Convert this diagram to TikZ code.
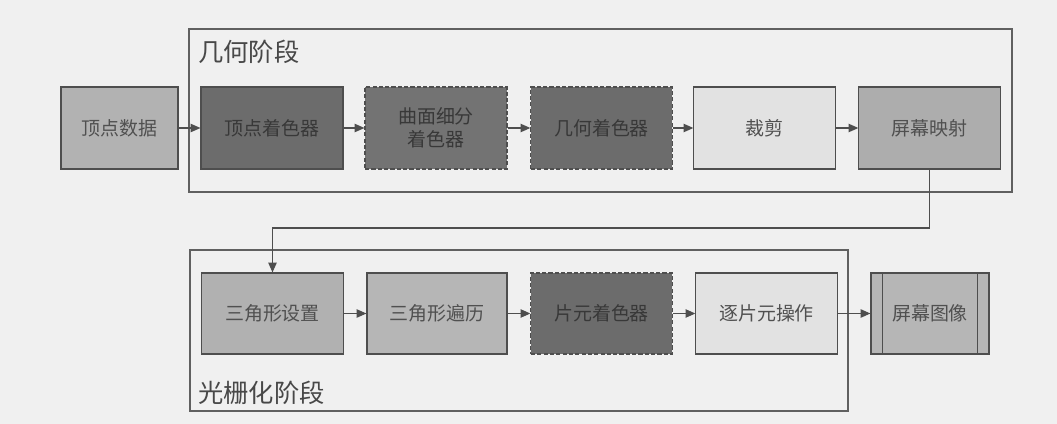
\documentclass[tikz,border=0pt]{standalone}
\usepackage{fontspec}
\newfontfamily\cjk{Noto Sans CJK SC}
\usepackage{tikz}
\usetikzlibrary{arrows.meta, positioning}
\definecolor{paper}{HTML}{F0F0F0}
\definecolor{edge}{HTML}{4E4E4E}
\definecolor{ink}{HTML}{505050}
\definecolor{lightfill}{HTML}{E2E2E2}
\definecolor{midfill}{HTML}{B6B6B6}
\definecolor{darkfill}{HTML}{6C6C6C}

\begin{document}
\begin{tikzpicture}[
    stagebox/.style={rectangle, draw=edge, minimum height=2.05cm,
                     minimum width=3.53cm, inner sep=0pt, line width=0.8pt,
                     text=ink, font=\cjk\fontsize{13.5}{16}\selectfont, align=center},
    lightbox/.style={stagebox, fill=lightfill},
    midbox/.style={stagebox, fill=midfill},
    darkbox/.style={stagebox, fill=darkfill, text=ink!70!black},
    progbox/.style={darkbox, dashed, dash pattern=on 3pt off 1.5pt},
    frame/.style={rectangle, draw=edge!90, line width=0.8pt, inner sep=0pt},
    stagename/.style={anchor=west, inner sep=0pt, text=ink!90!black,
                      font=\cjk\fontsize{18}{20}\selectfont},
    arr/.style={-{Triangle[length=7pt, width=6pt]}, line width=0.8pt, edge},
]
  % paper and bounding box
  \fill[paper] (0,0) rectangle (26.425,-10.6);
  \useasboundingbox (0,0) rectangle (26.425,-10.6);

  % stage frames
  \node[frame, minimum width=20.575cm, minimum height=4.075cm] (geo) at (15.0125,-2.7625) {};
  \node[frame, minimum width=16.45cm, minimum height=4.025cm] (rast) at (12.975,-8.2625) {};
  \node[stagename] (geoname) at (4.95,-1.3) {几何阶段};
  \node[stagename] (rastname) at (4.95,-9.825) {光栅化阶段};

  % geometry row
  \node[midbox, minimum width=2.925cm, fill=midfill!105] (vdata) at (2.9875,-3.2) {顶点数据};
  \node[darkbox, minimum width=3.55cm] (vshader) at (6.8,-3.2) {顶点着色器};
  \node[progbox, minimum width=3.55cm, fill=darkfill!95!white] (tess) at (10.9,-3.2) {曲面细分\\着色器};
  \node[progbox] (gshader) at (15.0375,-3.2) {几何着色器};
  \node[lightbox] (clip) at (19.1125,-3.2) {裁剪};
  \node[midbox, fill=midfill!95!black] (smap) at (23.2375,-3.2) {屏幕映射};

  % rasterization row
  \node[midbox, minimum height=2.025cm, fill=midfill!97!black] (tsetup) at (6.8125,-7.8375) {三角形设置};
  \node[midbox, minimum height=2.025cm, minimum width=3.5cm] (ttrav) at (10.925,-7.8375) {三角形遍历};
  \node[progbox, minimum height=2.025cm] (fshader) at (15.0375,-7.8375) {片元着色器};
  \node[lightbox, minimum height=2.025cm] (pfo) at (19.1625,-7.8375) {逐片元操作};
  \node[midbox, minimum height=2.025cm, minimum width=2.95cm] (simg) at (23.25,-7.8375) {屏幕图像};
  \draw[edge, line width=0.8pt] ([xshift=0.3cm]simg.north west) -- ([xshift=0.3cm]simg.south west);
  \draw[edge, line width=0.8pt] ([xshift=-0.3cm]simg.north east) -- ([xshift=-0.3cm]simg.south east);

  % connectors
  \draw[arr] (vdata) -- (vshader);
  \draw[arr] (vshader) -- (tess);
  \draw[arr] (tess) -- (gshader);
  \draw[arr] (gshader) -- (clip);
  \draw[arr] (clip) -- (smap);
  \coordinate (turn) at (6.8125,-5.7);
  \draw[arr] (smap.south) |- (turn) -- (tsetup.north);
  \draw[arr] (tsetup) -- (ttrav);
  \draw[arr] (ttrav) -- (fshader);
  \draw[arr] (fshader) -- (pfo);
  \draw[arr] (pfo) -- (simg);

\end{tikzpicture}
\end{document}
